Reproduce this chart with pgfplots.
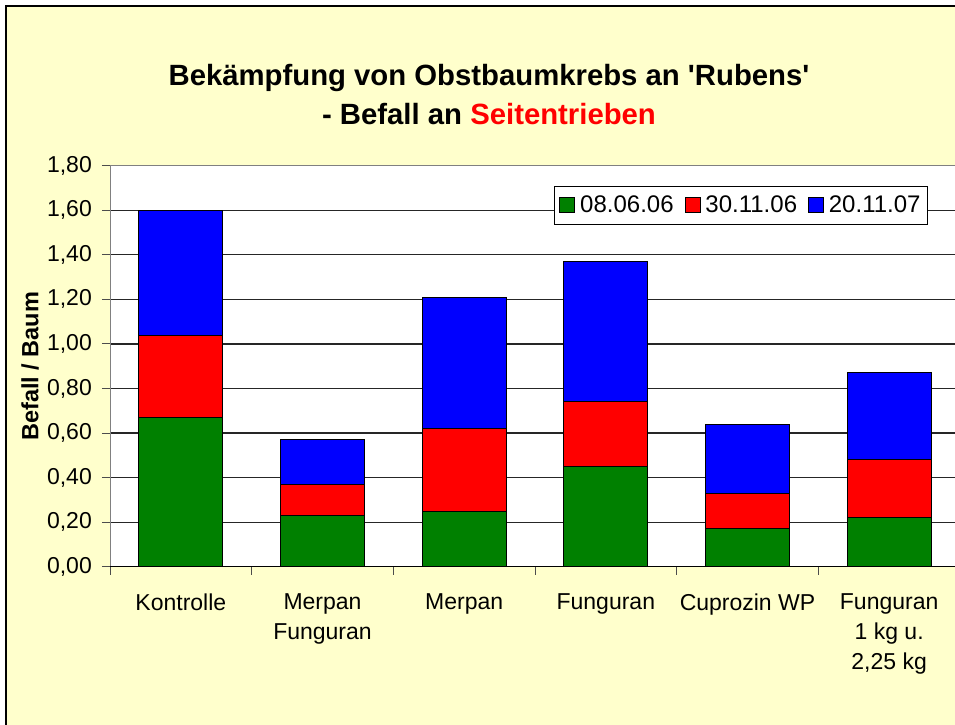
\documentclass[border=0pt]{standalone}
\usepackage{pgfplots}
\pgfplotsset{compat=1.18}
\usepackage{fontspec}
\setmainfont{Liberation Sans}
\definecolor{bgyellow}{HTML}{FFFFCC}
\definecolor{bgreen}{HTML}{008000}
\definecolor{bred}{HTML}{FF0000}
\definecolor{bblue}{HTML}{0000FF}
\begin{document}
\begin{tikzpicture}
\useasboundingbox (0pt,0pt) rectangle (955pt,-724pt);
\clip (0pt,0pt) rectangle (955pt,-724pt);
\fill[white] (0pt,0pt) rectangle (955pt,-724pt);
\fill[bgyellow] (6pt,-6pt) rectangle (1000pt,-800pt);
\draw[line width=2.5pt] (6.2pt,-800pt) -- (6.2pt,-6.2pt) -- (1000pt,-6.2pt);
\node[anchor=base, font=\bfseries\fontsize{29.3}{34}\selectfont] at (489pt,-85pt) {Bekämpfung von Obstbaumkrebs an \textquotesingle Rubens\textquotesingle};
\node[anchor=base, font=\bfseries\fontsize{29.3}{34}\selectfont] at (489pt,-124pt) {- Befall an \textcolor{bred}{Seitentrieben}};
\begin{axis}[
  at={(110pt,-566.7pt)}, anchor=south west,
  scale only axis, width=850pt, height=401pt,
  ybar stacked, bar width=84pt,
  xmin=-0.5, xmax=5.5, ymin=0, ymax=1.8,
  axis background/.style={fill=white},
  axis line style={draw=black!50, line width=1pt},
  xtick={-0.5,0.5,1.5,2.5,3.5,4.5,5.5},
  x tick label as interval,
  xticklabels={{Kontrolle}, {Merpan\\Funguran}, {Merpan}, {Funguran}, {Cuprozin WP}, {Funguran\\1 kg u.\\2,25 kg}},
  ytick={0,0.2,0.4,0.6,0.8,1.0,1.2,1.4,1.6,1.8},
  xtick pos=left, ytick pos=left,
  tick align=outside, major tick length=8pt,
  tick style={draw=black!70, line width=1pt},
  ymajorgrids, major grid style={draw=black!85, line width=1.2pt},
  yticklabel style={/pgf/number format/fixed, /pgf/number format/fixed zerofill, /pgf/number format/precision=2, /pgf/number format/use comma, /pgf/number format/assume math mode=true},
  yticklabel style={font=\fontsize{23}{26}\selectfont, inner sep=0pt, xshift=-10pt},
  xticklabel style={font=\fontsize{23}{30}\selectfont, align=center, anchor=north, inner sep=0pt, yshift=-19pt},
  ylabel={Befall / Baum},
  ylabel style={font=\bfseries\fontsize{23.5}{26}\selectfont, at={(axis description cs:-0.094,0.5)}, anchor=center},
  legend style={at={(0.9624,0.9504)}, anchor=north east, legend columns=3, draw=black, line width=1pt, fill=white,
    font=\fontsize{24}{27}\selectfont, inner xsep=5pt, inner ysep=8pt,
    /tikz/every odd column/.append style={column sep=3pt},
    /tikz/every even column/.append style={column sep=9pt}},
  legend image code/.code={\draw[#1,draw=black,line width=0.8pt] (0pt,-7.5pt) rectangle (15pt,7.5pt);},
  every axis plot/.append style={draw=black, line width=1pt},
]
\addplot[fill=bgreen] coordinates {(0,0.67) (1,0.23) (2,0.25) (3,0.45) (4,0.17) (5,0.22)};
\addplot[fill=bred] coordinates {(0,0.37) (1,0.14) (2,0.37) (3,0.29) (4,0.16) (5,0.26)};
\addplot[fill=bblue] coordinates {(0,0.56) (1,0.20) (2,0.59) (3,0.63) (4,0.31) (5,0.39)};
\legend{08.06.06, 30.11.06, 20.11.07}
\draw[black, line width=1.2pt] (rel axis cs:0,0) -- (rel axis cs:1,0);
\end{axis}
\end{tikzpicture}
\end{document}
